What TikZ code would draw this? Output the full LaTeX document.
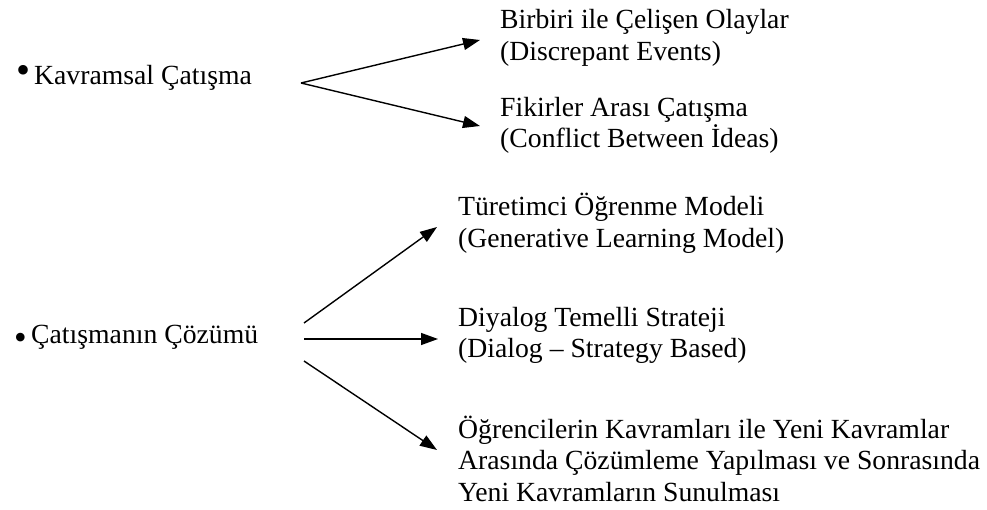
\documentclass[tikz,border=0pt]{standalone}
\usepackage{fontspec}
\setmainfont{Liberation Serif}
\usetikzlibrary{arrows.meta}

\tikzset{
  txt/.style={anchor=base west,inner sep=0pt,align=left,
    font=\fontsize{27.7}{31.5}\selectfont},
  dot/.style={anchor=base west,inner sep=0pt,font=\fontsize{#1}{#1}\selectfont},
  fork/.style={-{Triangle[length=17pt,width=12pt]},line width=1.4pt}
}

\begin{document}
\begin{tikzpicture}[x=1pt,y=-1pt]
\useasboundingbox (0,0) rectangle (987,510);
% first bullet
\node[dot=40] (bulA) at (16,84) {\textbullet};
\node[txt] (kavram) at (34,85) {Kavramsal Çatışma};
\node[txt] (discrep) at (500,60.5) {Birbiri ile Çelişen Olaylar\\(Discrepant Events)};
\node[txt] (conflict) at (500,148) {Fikirler Arası Çatışma\\(Conflict Between İdeas)};
\coordinate (forkA) at (301,83);
\coordinate (tipA1) at (480,40);
\coordinate (tipA2) at (480,126);
\draw[fork] (forkA) -- (tipA1);
\draw[fork] (forkA) -- (tipA2);
% second bullet
\node[dot=36] (bulB) at (14,349) {\textbullet};
\node[txt] (cozum) at (31,343) {Çatışmanın Çözümü};
\node[txt] (generat) at (458,247.5) {Türetimci Öğrenme Modeli\\(Generative Learning Model)};
\node[txt] (dialog) at (458,357.5) {Diyalog Temelli Strateji\\(Dialog – Strategy Based)};
\node[txt] (kavramlar) at (458,501.3) {Öğrencilerin Kavramları ile Yeni Kavramlar\\Arasında Çözümleme Yapılması ve Sonrasında\\Yeni Kavramların Sunulması};
\coordinate (startB1) at (304,323);
\coordinate (startB2) at (304,339);
\coordinate (startB3) at (304,361);
\coordinate (tipB1) at (437,227);
\coordinate (tipB2) at (438,339);
\coordinate (tipB3) at (437,450);
\draw[fork] (startB1) -- (tipB1);
\draw[fork] (startB2) -- (tipB2);
\draw[fork] (startB3) -- (tipB3);
\end{tikzpicture}
\end{document}
